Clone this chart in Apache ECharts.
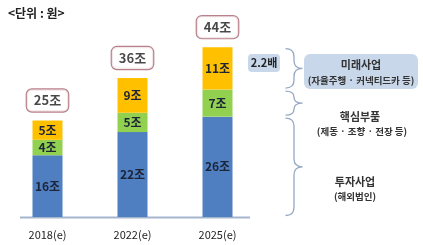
<!DOCTYPE html>
<html><head><meta charset="utf-8">
<script src="https://cdn.jsdelivr.net/npm/echarts@6/dist/echarts.min.js"></script>
<style>html,body{margin:0;padding:0;background:#fff}#c{width:423px;height:245px}</style>
</head><body><div id="c"></div>
<script>
const categories = ['2018(e)', '2022(e)', '2025(e)'];
const invest = [16, 22, 26];   // 투자사업 (blue)
const core = [4, 5, 7];        // 핵심부품 (green)
const future = [5, 9, 11];     // 미래사업 (yellow)
const totals = [25, 36, 44];
const unitLabel = '<단위 : 원>';
const growthLabel = '2.2배';

const FONT = '"Noto Sans CJK KR", "Noto Sans", sans-serif';
const TXT = '#1c2438';

// brace spans for the last bar's segments
const last = categories.length - 1;
const braceData = [
  [last, invest[last] + core[last], invest[last] + core[last] + future[last]],
  [last, invest[last], invest[last] + core[last]],
  [last, 0, invest[last]]
];

function segLabel() {
  return { show: true, position: 'inside', formatter: '{c}조', color: TXT,
           fontSize: 12, fontWeight: 'bold', fontFamily: FONT };
}

const chart = echarts.init(document.getElementById('c'), null, { renderer: 'canvas' });
chart.setOption({
  animation: false,
  backgroundColor: '#fff',
  grid: { left: 5, width: 255, top: 24, bottom: 28 },
  xAxis: {
    type: 'category', data: categories,
    axisLine: { show: false }, axisTick: { show: false },
    axisLabel: { color: '#222', fontSize: 11, fontFamily: FONT, margin: 12 }
  },
  yAxis: { type: 'value', min: 0, max: 50, show: false, splitLine: { show: false } },
  series: [
    { type: 'bar', stack: 's', data: invest, barWidth: 30,
      itemStyle: { color: '#4f7fc1' }, label: segLabel() },
    { type: 'bar', stack: 's', data: core, barWidth: 30,
      itemStyle: { color: '#92d050' }, label: segLabel() },
    { type: 'bar', stack: 's', data: future, barWidth: 30,
      itemStyle: { color: '#ffc000' }, label: segLabel() },
    { type: 'scatter', data: totals, symbolSize: 0, silent: true,
      label: { show: true, position: 'top', distance: 9, formatter: '{c}조',
               color: '#1a1a1a', fontSize: 13, fontWeight: 'bold', fontFamily: FONT,
               backgroundColor: '#fff', borderColor: '#a8626e', borderWidth: 1.2,
               borderRadius: 5, padding: [3, 7], lineHeight: 16 } },
    { type: 'custom', data: braceData, silent: true, clip: false,
      renderItem: function (params, api) {
        const top = api.coord([api.value(0), api.value(2)]);
        const bot = api.coord([api.value(0), api.value(1)]);
        const x0 = top[0] + 68, w = 17, xm = x0 + w / 2, xr = x0 + w;
        const y1 = top[1] + 1.5, y2 = bot[1] - 1.5, ym = (y1 + y2) / 2;
        const r = Math.min(8, (y2 - y1) / 4);
        const d = 'M' + x0 + ' ' + y1 + ' Q' + xm + ' ' + y1 + ' ' + xm + ' ' + (y1 + r) +
          ' L' + xm + ' ' + (ym - r) + ' Q' + xm + ' ' + ym + ' ' + xr + ' ' + ym +
          ' Q' + xm + ' ' + ym + ' ' + xm + ' ' + (ym + r) +
          ' L' + xm + ' ' + (y2 - r) + ' Q' + xm + ' ' + y2 + ' ' + x0 + ' ' + y2;
        return { type: 'path', shape: { pathData: d },
                 style: { stroke: '#94a9c3', lineWidth: 1.3, fill: null } };
      } }
  ],
  graphic: [
    { type: 'text', left: 8, top: 7,
      style: { text: unitLabel, font: 'bold 12px ' + FONT, fill: '#222' } },
    { type: 'line', shape: { x1: 20, y1: 217.5, x2: 250, y2: 217.5 },
      style: { stroke: '#a3b6cd', lineWidth: 2 } },
    { type: 'rect', shape: { x: 248, y: 54, width: 32, height: 18, r: 4 },
      style: { fill: '#c9d7ea' } },
    { type: 'text', x: 264, y: 63,
      style: { text: growthLabel, font: 'bold 11px ' + FONT, fill: '#222',
               align: 'center', verticalAlign: 'middle' } },
    { type: 'rect', shape: { x: 304, y: 54, width: 114, height: 35, r: 6 },
      style: { fill: '#c9d7ea' } },
    { type: 'text', x: 361, y: 65,
      style: { text: '미래사업', font: 'bold 11px ' + FONT, fill: '#333',
               align: 'center', verticalAlign: 'middle' } },
    { type: 'text', x: 361, y: 80,
      style: { text: '(자율주행 · 커넥티드카 등)', font: 'bold 9.5px ' + FONT, fill: '#333',
               align: 'center', verticalAlign: 'middle' } },
    { type: 'text', x: 360, y: 117,
      style: { text: '핵심부품', font: 'bold 11px ' + FONT, fill: '#333',
               align: 'center', verticalAlign: 'middle' } },
    { type: 'text', x: 362, y: 131,
      style: { text: '(제동 · 조향 · 전장 등)', font: 'bold 9.5px ' + FONT, fill: '#333',
               align: 'center', verticalAlign: 'middle' } },
    { type: 'text', x: 355, y: 182,
      style: { text: '투자사업', font: 'bold 11px ' + FONT, fill: '#333',
               align: 'center', verticalAlign: 'middle' } },
    { type: 'text', x: 355, y: 196,
      style: { text: '(해외법인)', font: 'bold 9.5px ' + FONT, fill: '#333',
               align: 'center', verticalAlign: 'middle' } }
  ]
});
</script></body></html>
